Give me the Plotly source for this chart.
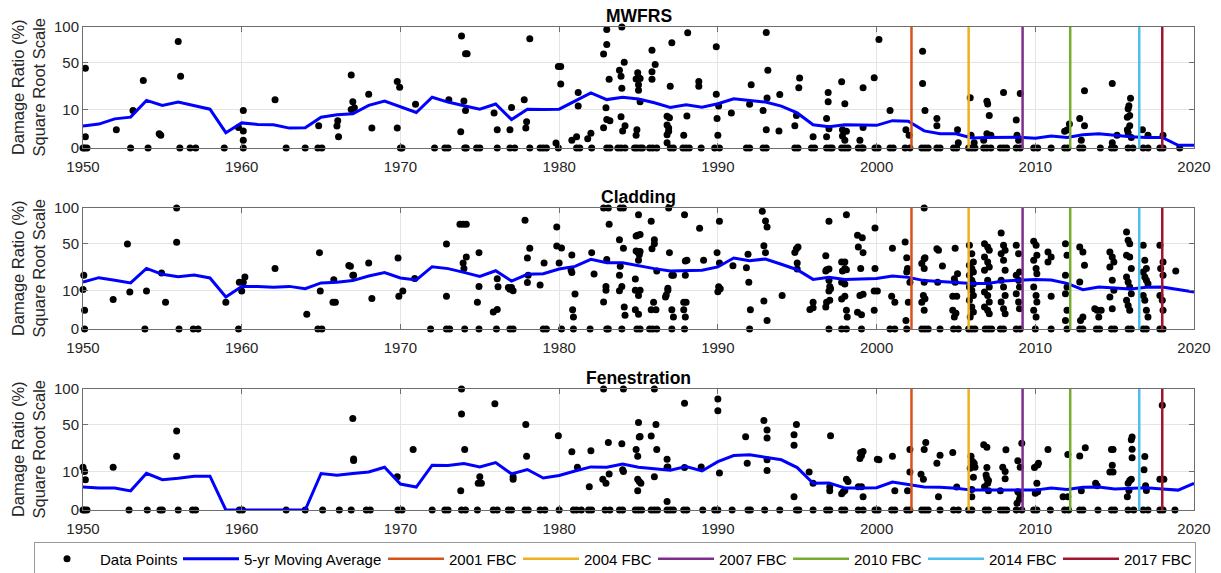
import numpy as np
import plotly.graph_objects as go

# ---------------- data ----------------
avg_years = list(range(1950, 2021))

mwfrs_avg = [3.3, 3.9, 5.8, 6.5, 15.5, 12.4, 14.4, 12.4, 10.3, 1.6,
             4.3, 3.8, 3.7, 2.7, 2.8, 6.5, 7.5, 8.0, 12.4, 15.1,
             11.4, 8.6, 17.6, 14.4, 12.2, 10.3, 13.2, 5.5, 10.3, 10.1,
             10.3, 15.1, 20.7, 16.0, 17.6, 16.4, 14.0, 11.2, 12.8, 11.4,
             13.4, 16.6, 15.5, 14.4, 12.0, 8.4, 3.7, 3.1, 3.7, 3.7,
             3.5, 5.1, 4.9, 2.0, 1.4, 1.4, 0.7, 0.75, 0.75, 0.8,
             0.65, 1.0, 0.75, 1.2, 1.4, 1.1, 0.85, 0.75, 0.75, 0.05, 0.05]

cladding_avg = [15.1, 18.0, 16.2, 14.5, 25.1, 20.4, 18.7, 19.9, 17.8, 7.0,
                12.4, 12.4, 11.9, 12.4, 11.1, 14.5, 14.9, 16.0, 19.2, 21.7,
                17.8, 16.4, 26.5, 24.9, 21.9, 18.9, 23.2, 15.7, 20.4, 20.9,
                24.6, 26.8, 33.2, 30.0, 30.0, 27.1, 24.9, 23.0, 23.0, 23.5,
                26.3, 34.4, 31.9, 33.5, 28.6, 24.0, 16.8, 18.2, 16.8, 17.1,
                17.5, 19.2, 18.2, 16.0, 15.5, 14.9, 14.2, 14.2, 15.7, 16.2,
                16.8, 16.4, 14.2, 10.6, 12.0, 11.5, 10.9, 11.9, 12.0, 10.7, 9.3]

fenestration_avg = [3.6, 3.3, 3.3, 2.5, 9.2, 6.3, 6.9, 7.8, 7.8, 0.0,
                    0.0, 0.0, 0.0, 0.0, 0.0, 9.1, 8.3, 9.1, 9.9, 12.5,
                    4.6, 3.6, 13.7, 13.5, 14.7, 12.7, 15.4, 8.9, 11.2, 7.0,
                    8.1, 10.4, 12.7, 12.5, 14.5, 12.5, 11.7, 10.8, 12.9, 10.4,
                    16.0, 20.3, 20.8, 18.8, 17.2, 12.3, 4.9, 5.0, 3.3, 3.3,
                    3.4, 5.3, 4.4, 3.6, 3.5, 3.2, 2.7, 2.7, 2.7, 2.7,
                    2.7, 3.3, 2.9, 3.5, 3.6, 3.0, 3.3, 3.4, 3.0, 2.7, 4.8]

mwfrs_points = [
    (1950.15, 43.5), (1950.15, 0.85), (1952.1, 2.3), (1953.15, 9.6), (1953.8, 31.2),
    (1954.8, 1.4), (1954.9, 1.1), (1956.0, 77.4), (1956.15, 35.1), (1959.8, 2.9),
    (1960.1, 9.6), (1960.1, 2.0), (1960.1, 0.4), (1962.1, 15.9), (1964.85, 3.4),
    (1966.0, 3.3), (1966.05, 5.1), (1966.1, 0.85), (1966.9, 36.4), (1967.0, 14.6),
    (1966.9, 10.1), (1967.1, 11.0), (1968.0, 19.7), (1968.2, 2.7), (1969.8, 30.3),
    (1969.95, 25.3), (1969.8, 2.7), (1970.95, 13.0), (1973.05, 15.9), (1973.85, 85.5),
    (1974.1, 60.7), (1974.2, 60.7), (1974.0, 15.1), (1974.1, 9.6), (1973.8, 1.8),
    (1975.9, 8.4), (1976.1, 2.3), (1976.9, 2.3), (1977.0, 11.2), (1977.8, 15.9),
    (1977.95, 4.7), (1977.9, 2.7), (1978.15, 81.4), (1979.8, 0.17), (1979.95, 45.3),
    (1980.1, 45.3), (1980.1, 27.9), (1980.8, 0.4), (1981.1, 0.85), (1981.2, 21.0),
    (1981.2, 12.0), (1981.8, 0.6), (1982.0, 1.5), (1982.8, 2.8), (1982.8, 60.3),
    (1983.0, 96.0), (1983.0, 73.0), (1982.95, 11.0), (1983.0, 5.5), (1983.2, 5.1),
    (1983.15, 32.2), (1983.8, 41.3), (1983.9, 35.1), (1983.95, 24.4), (1983.95, 100.0),
    (1984.1, 50.3), (1983.9, 6.7), (1984.15, 3.4), (1984.0, 2.0), (1984.95, 38.8),
    (1984.85, 32.5), (1985.0, 34.0), (1985.1, 33.0), (1985.0, 27.3), (1985.0, 22.8),
    (1985.1, 14.6), (1984.9, 2.3), (1984.85, 1.1), (1985.85, 65.2), (1986.05, 47.6),
    (1985.85, 39.8), (1985.85, 32.2), (1987.0, 26.1), (1987.1, 75.5), (1986.8, 6.9),
    (1986.95, 6.2), (1986.8, 3.6), (1986.9, 2.7), (1986.9, 1.9), (1986.8, 1.2),
    (1986.8, 0.18), (1987.85, 1.1), (1988.05, 7.0), (1988.1, 90.7), (1988.8, 30.3),
    (1988.8, 26.1), (1989.9, 70.0), (1989.9, 19.7), (1989.95, 5.9), (1990.0, 1.1),
    (1990.05, 12.0), (1990.85, 8.4), (1992.0, 13.0), (1992.1, 27.3), (1993.05, 91.0),
    (1993.15, 41.3), (1993.1, 17.1), (1992.85, 9.6), (1993.05, 2.3), (1993.9, 19.5),
    (1993.85, 2.0), (1994.85, 3.4), (1994.95, 7.2), (1995.15, 33.4), (1995.1, 24.7),
    (1996.0, 0.85), (1996.95, 21.0), (1996.95, 14.6), (1996.85, 5.9), (1996.85, 0.85),
    (1997.0, 2.5), (1997.8, 30.0), (1998.0, 13.4), (1997.85, 2.3), (1998.1, 1.9),
    (1997.85, 1.0), (1998.0, 0.4), (1998.95, 0.4), (1999.15, 24.7), (1999.15, 2.9),
    (1999.85, 33.8), (2000.15, 80.4), (2000.85, 9.6), (2001.85, 2.3), (2002.05, 1.1),
    (2002.9, 63.8), (2002.9, 28.5), (2003.05, 9.6), (2003.8, 5.9), (2003.8, 3.4),
    (2005.1, 2.3), (2005.15, 0.18), (2005.9, 17.3), (2005.95, 1.1), (2006.15, 0.18),
    (2006.95, 14.9), (2007.0, 13.2), (2007.1, 7.2), (2006.95, 1.4), (2007.05, 1.1),
    (2007.2, 1.1), (2006.75, 0.4), (2008.0, 21.0), (2008.8, 5.4), (2008.85, 1.1),
    (2009.05, 20.2), (2008.95, 0.4), (2011.85, 1.9), (2012.0, 2.2), (2012.15, 3.9),
    (2012.8, 5.9), (2013.1, 22.3), (2013.1, 3.4), (2012.9, 0.4), (2014.85, 28.5),
    (2014.85, 0.18), (2015.15, 1.1), (2015.8, 6.5), (2015.85, 10.5), (2015.9, 12.2),
    (2015.95, 7.2), (2016.0, 16.9), (2015.8, 2.3), (2015.95, 3.4), (2016.05, 0.75),
    (2015.85, 1.6), (2016.75, 2.3), (2017.1, 1.1), (2018.05, 1.1),
]
mwfrs_zero_years = [
    1950.0, 1950.1, 1950.25, 1953.0, 1954.1, 1956.1, 1956.75, 1957.1, 1958.9, 1960.1,
    1962.8, 1964.0, 1964.8, 1965.05, 1970.0, 1970.1, 1972.15, 1972.8, 1973.0, 1974.05,
    1974.15, 1974.8, 1975.0, 1976.1, 1976.9, 1977.2, 1978.15, 1978.8, 1979.0, 1979.2,
    1979.95, 1981.1, 1981.3, 1982.05, 1983.0, 1983.2, 1983.7, 1983.9, 1984.15, 1984.75,
    1984.9, 1985.1, 1985.25, 1985.7, 1985.9, 1986.15, 1987.0, 1987.2, 1987.8, 1988.0,
    1988.2, 1988.95, 1989.8, 1990.1, 1991.8, 1992.0, 1992.85, 1993.05, 1994.85, 1995.05,
    1995.9, 1996.1, 1996.85, 1997.05, 1997.2, 1997.8, 1998.0, 1998.2, 1998.85, 1999.05,
    1999.15, 1999.9, 2000.1, 2000.85, 2001.05, 2001.8, 2002.1, 2002.85, 2003.05, 2003.25,
    2003.8, 2004.0, 2004.85, 2005.05, 2005.8, 2006.0, 2006.2, 2006.75, 2006.95, 2007.2,
    2007.8, 2008.0, 2008.2, 2008.8, 2009.05, 2009.9, 2010.15, 2011.0, 2011.85, 2012.05,
    2012.8, 2013.0, 2014.1, 2014.8, 2015.0, 2015.85, 2016.15, 2016.8, 2017.1, 2017.85,
    2018.05, 2019.1,
]

cladding_points = [
    (1950.05, 19.7), (1950.0, 10.7), (1950.1, 2.4), (1951.9, 5.9), (1952.8, 49.3),
    (1952.95, 9.4), (1954.0, 9.9), (1954.95, 21.4), (1955.2, 4.9), (1955.9, 100.0),
    (1955.9, 51.3), (1959.0, 4.9), (1959.85, 14.9), (1960.0, 9.9), (1960.1, 14.9),
    (1960.2, 18.5), (1962.1, 24.9), (1964.1, 1.5), (1964.9, 39.8), (1964.95, 9.9),
    (1965.8, 16.6), (1965.75, 4.9), (1965.9, 4.9), (1966.75, 27.5), (1966.85, 27.0),
    (1967.0, 19.7), (1967.05, 19.7), (1968.0, 29.8), (1968.2, 6.4), (1969.85, 34.4),
    (1969.9, 7.3), (1970.15, 9.9), (1970.9, 17.5),
    (1972.9, 49.3), (1972.9, 7.3), (1973.75, 74.8), (1973.95, 74.8), (1974.15, 74.8),
    (1974.15, 35.4), (1973.95, 29.8), (1974.0, 24.9), (1974.95, 39.8), (1974.95, 12.4),
    (1974.85, 4.9), (1975.85, 2.0), (1976.1, 2.6), (1976.1, 17.3), (1976.15, 12.2),
    (1976.8, 11.8), (1976.9, 10.8), (1977.0, 11.8), (1977.1, 10.0), (1977.85, 80.7),
    (1978.15, 44.4), (1978.0, 34.4), (1978.05, 19.7), (1978.0, 14.7), (1978.8, 13.2),
    (1979.05, 29.8), (1979.85, 71.1), (1979.85, 47.1), (1980.0, 29.8), (1980.15, 44.8),
    (1980.8, 37.4), (1980.75, 23.8), (1980.8, 21.9), (1981.0, 8.4), (1980.85, 2.5),
    (1980.9, 1.0), (1982.05, 39.8), (1982.2, 20.7), (1982.8, 100.0), (1983.1, 100.0),
    (1983.15, 74.8), (1982.95, 12.4), (1982.95, 10.2), (1982.8, 5.0), (1983.0, 33.1),
    (1983.85, 100.0), (1984.05, 100.0), (1983.8, 54.5), (1984.05, 44.4), (1983.85, 26.8),
    (1983.8, 19.7), (1983.95, 12.4), (1983.8, 10.0), (1984.1, 3.3), (1984.15, 1.3),
    (1985.0, 89.3), (1984.85, 59.0), (1984.95, 60.0), (1985.1, 61.0), (1984.85, 41.5),
    (1984.95, 40.5), (1985.1, 41.0), (1985.05, 37.7), (1985.0, 32.2), (1984.8, 17.1),
    (1984.8, 10.2), (1985.0, 7.7), (1985.1, 10.2), (1984.8, 2.5), (1985.0, 1.5),
    (1985.8, 79.2), (1986.0, 54.5), (1986.0, 49.7), (1985.85, 44.1), (1985.95, 4.9),
    (1985.8, 2.5), (1986.1, 2.5), (1986.15, 23.0), (1986.95, 39.8), (1986.85, 11.4),
    (1986.85, 10.2), (1986.75, 7.9), (1986.7, 7.0), (1987.1, 19.7), (1987.2, 19.7),
    (1987.1, 2.5), (1987.2, 1.0), (1986.9, 100.0), (1987.9, 89.3), (1987.95, 31.5),
    (1988.05, 32.2), (1987.95, 19.7), (1987.85, 4.9), (1988.0, 4.9), (1987.85, 2.5),
    (1987.95, 1.0), (1988.85, 69.2), (1989.1, 32.2), (1989.95, 39.8), (1990.1, 79.2),
    (1990.1, 29.8), (1990.0, 9.5), (1990.05, 12.2), (1990.15, 11.1), (1990.95, 27.4),
    (1991.8, 25.7), (1991.9, 38.1), (1991.95, 14.9), (1992.05, 2.5), (1992.8, 94.6),
    (1993.0, 79.7), (1993.1, 71.1), (1992.9, 47.4), (1993.0, 39.8), (1992.9, 5.4),
    (1993.1, 0.5), (1994.05, 7.7), (1994.85, 40.0), (1994.95, 44.0), (1995.05, 46.0),
    (1995.0, 29.8), (1995.0, 24.6), (1995.8, 2.6), (1996.0, 3.1), (1996.0, 4.9),
    (1997.0, 79.2), (1996.8, 36.7), (1996.85, 24.0), (1997.0, 24.6), (1996.8, 23.0),
    (1997.0, 16.2), (1997.05, 12.4), (1997.1, 11.1), (1997.0, 9.9), (1996.85, 4.9),
    (1997.05, 5.6), (1996.8, 3.3), (1997.8, 30.6), (1998.0, 30.6), (1998.0, 24.9),
    (1997.85, 23.0), (1998.1, 24.0), (1997.8, 14.9), (1998.0, 13.8), (1997.8, 6.1),
    (1998.0, 7.3), (1998.1, 89.3), (1998.1, 2.4), (1998.15, 1.0), (1998.8, 59.9),
    (1999.1, 57.0), (1998.85, 45.9), (1999.15, 39.8), (1999.0, 24.9), (1998.95, 7.7),
    (1999.15, 8.2), (1998.8, 1.9), (1999.05, 1.4), (1999.9, 69.7), (1999.9, 24.9),
    (1999.85, 9.9), (2000.05, 9.9), (1999.85, 2.4), (2001.0, 44.4), (2000.95, 7.3),
    (2001.15, 4.9), (2001.8, 51.7), (2001.9, 34.7), (2001.95, 24.9), (2001.9, 22.2),
    (2002.1, 14.9), (2002.0, 4.9), (2001.85, 0.5), (2003.0, 100.0), (2002.85, 29.2),
    (2003.0, 33.8), (2003.05, 34.7), (2003.0, 24.9), (2003.0, 14.9), (2002.95, 7.7),
    (2003.05, 6.3), (2002.85, 4.9), (2003.0, 2.4), (2003.8, 44.1), (2003.9, 42.3),
    (2004.15, 27.1), (2003.85, 14.9), (2004.95, 44.4), (2004.9, 17.3), (2004.95, 14.9),
    (2005.1, 20.9), (2004.8, 7.3), (2005.05, 7.3), (2004.8, 2.4), (2004.9, 1.0),
    (2005.0, 1.7),
    (2005.85, 47.8), (2006.0, 38.8), (2006.1, 30.6), (2005.85, 27.7), (2006.0, 24.9),
    (2006.1, 22.2), (2005.85, 19.7), (2006.0, 16.2), (2006.1, 14.0), (2005.85, 12.0),
    (2006.0, 10.2), (2006.1, 7.7), (2005.85, 5.6), (2006.0, 3.3), (2006.1, 2.0),
    (2005.9, 1.0),
    (2006.8, 49.7), (2007.0, 45.9), (2007.1, 42.3), (2006.8, 35.4), (2007.0, 30.6),
    (2007.1, 26.3), (2006.8, 23.5), (2007.0, 16.2), (2007.1, 12.0), (2006.8, 9.3),
    (2007.0, 7.7), (2007.1, 5.0), (2006.8, 3.3), (2007.0, 2.4), (2007.1, 1.6),
    (2007.85, 62.9), (2008.0, 47.8), (2008.1, 42.3), (2007.85, 38.8), (2008.0, 32.2),
    (2008.1, 23.5), (2007.85, 16.2), (2008.0, 12.0), (2008.1, 7.7), (2007.85, 5.0),
    (2008.0, 2.8), (2008.1, 1.6),
    (2008.8, 47.8), (2008.95, 38.8), (2009.0, 22.2), (2008.8, 19.7), (2008.95, 16.2),
    (2009.0, 12.0), (2008.8, 8.5), (2008.95, 5.0), (2009.0, 2.8),
    (2009.9, 52.5), (2010.05, 47.8), (2010.1, 37.1), (2009.9, 32.2), (2010.05, 24.9),
    (2010.1, 20.9), (2009.9, 12.0), (2010.05, 7.7), (2010.1, 5.0), (2009.9, 2.4),
    (2010.05, 1.0),
    (2010.8, 40.5), (2011.0, 35.4), (2010.8, 30.6), (2011.0, 7.3),
    (2011.9, 49.7), (2012.0, 37.1), (2011.9, 19.7), (2012.0, 12.0), (2011.9, 8.5),
    (2012.0, 2.4), (2011.9, 0.5),
    (2012.8, 45.9), (2013.0, 40.5), (2013.1, 27.7), (2012.8, 15.1), (2013.0, 1.0),
    (2012.85, 0.5),
    (2013.75, 2.8), (2013.9, 2.4), (2014.0, 1.0), (2014.15, 2.4),
    (2014.7, 40.5), (2014.85, 35.4), (2014.95, 30.6), (2014.7, 26.3), (2014.85, 16.2),
    (2014.95, 10.2), (2014.7, 7.0), (2014.85, 2.8),
    (2015.75, 64.3), (2015.85, 53.7), (2015.95, 49.7), (2015.75, 37.1), (2015.95, 35.4),
    (2016.05, 24.9), (2015.75, 18.5), (2015.85, 15.1), (2015.95, 12.0), (2016.05, 8.5),
    (2015.75, 5.6), (2015.85, 3.8), (2015.95, 2.4),
    (2016.8, 47.8), (2016.9, 32.2), (2017.0, 24.9), (2016.8, 22.2), (2016.9, 18.5),
    (2017.0, 16.2), (2017.1, 14.0), (2016.8, 7.7), (2016.9, 5.6), (2017.0, 2.4),
    (2017.1, 1.0),
    (2017.85, 47.8), (2018.05, 30.6), (2017.9, 24.9), (2018.05, 19.7), (2017.85, 7.7),
    (2018.0, 5.6), (2018.05, 2.4), (2018.85, 23.0),
]
cladding_zero_years = [
    1950.1, 1953.9, 1956.05, 1956.95, 1957.25, 1959.8, 1964.8, 1965.05, 1971.9, 1972.9,
    1973.1, 1974.05, 1974.95, 1976.05, 1976.9, 1977.1, 1979.0, 1979.2, 1980.15, 1980.9,
    1981.95, 1983.0, 1983.1, 1983.95, 1984.9, 1985.1, 1985.7, 1985.9, 1986.15, 1987.1,
    1987.9, 1992.0, 1997.0, 1997.8, 1998.1, 1999.05, 2000.85, 2001.15, 2001.9, 2002.85,
    2003.05, 2003.25, 2004.0, 2004.85, 2005.15, 2005.8, 2006.0, 2006.2, 2006.85, 2007.05,
    2007.25, 2007.8, 2008.0, 2008.8, 2009.05, 2010.0, 2011.0, 2012.0, 2012.8, 2013.0,
    2013.85, 2014.05, 2014.8, 2015.0, 2015.85, 2016.05, 2016.8, 2017.0, 2017.85, 2018.05,
]

fenestration_points = [
    (1950.0, 12.5), (1950.1, 10.1), (1950.15, 6.2), (1951.9, 12.5), (1955.9, 42.5),
    (1955.9, 19.8), (1967.0, 57.3), (1967.05, 17.8), (1967.05, 16.7), (1969.8, 7.5),
    (1970.8, 25.0), (1973.85, 100.0), (1973.85, 62.9), (1974.05, 25.0), (1973.8, 2.5),
    (1975.0, 7.5), (1974.9, 4.9), (1975.1, 4.9), (1975.95, 77.2), (1977.1, 7.6),
    (1977.1, 6.5), (1977.9, 50.0), (1977.95, 19.8), (1979.95, 37.6), (1980.8, 23.1),
    (1981.15, 12.5), (1981.9, 3.7), (1982.0, 23.9), (1982.75, 6.5), (1982.95, 4.9),
    (1982.8, 100.0), (1983.1, 31.1), (1983.15, 8.9), (1984.05, 100.0), (1983.95, 29.9),
    (1984.0, 11.0), (1984.05, 10.1), (1984.85, 25.0), (1984.95, 19.8), (1985.0, 52.4),
    (1985.1, 36.9), (1985.05, 36.5), (1984.95, 6.5), (1985.05, 5.5), (1985.15, 4.9),
    (1984.95, 2.5), (1985.8, 37.3), (1986.0, 100.0), (1986.1, 50.0), (1986.15, 25.0),
    (1986.0, 7.5), (1986.8, 17.6), (1986.85, 12.7), (1986.8, 12.5), (1986.8, 0.5),
    (1987.9, 77.7), (1987.9, 12.3), (1988.95, 12.7), (1990.0, 84.1), (1990.0, 67.3),
    (1990.1, 9.4), (1991.75, 36.6), (1991.85, 15.0), (1992.9, 54.8), (1993.1, 43.6),
    (1993.1, 35.3), (1993.1, 17.2), (1993.1, 10.6), (1994.95, 50.0), (1994.8, 38.6),
    (1994.8, 28.7), (1994.8, 1.2), (1995.75, 9.9), (1996.0, 4.9),
    (1997.1, 37.6), (1997.05, 3.7), (1997.05, 2.5), (1997.9, 2.3), (1998.0, 2.6),
    (1997.8, 1.8), (1998.1, 6.5), (1998.2, 5.5), (1999.0, 22.6), (1999.05, 20.3),
    (1998.95, 18.1), (1999.15, 23.4), (1998.85, 3.7), (1999.05, 3.7), (1999.15, 1.2),
    (2000.05, 17.6), (2000.15, 17.2), (2001.0, 19.8), (2001.15, 2.5), (2001.95, 2.5),
    (2002.1, 25.0), (2002.1, 9.9), (2002.8, 8.7), (2002.95, 6.5), (2003.0, 25.0),
    (2003.1, 31.1), (2003.8, 15.0), (2004.0, 20.5), (2003.9, 1.2), (2004.8, 22.6),
    (2005.05, 3.6), (2005.95, 19.8), (2006.05, 16.0), (2006.15, 15.0), (2006.0, 12.9),
    (2006.2, 12.5), (2005.9, 11.9), (2006.1, 7.3), (2006.0, 2.9), (2006.0, 1.2),
    (2006.75, 29.0), (2006.95, 27.0), (2006.95, 12.3), (2006.9, 8.4), (2006.95, 6.9),
    (2007.05, 5.9), (2007.0, 4.9), (2006.8, 3.7), (2007.05, 2.5), (2007.8, 2.5),
    (2007.95, 12.5), (2008.1, 10.1), (2008.15, 24.7), (2008.1, 6.7), (2008.85, 0.3),
    (2008.9, 16.5), (2009.05, 12.5), (2009.15, 30.5), (2008.9, 2.3), (2009.05, 1.5),
    (2009.0, 0.8), (2009.95, 12.3), (2010.15, 13.9), (2010.2, 15.0), (2010.1, 4.9),
    (2010.0, 1.9), (2010.15, 2.3), (2010.8, 25.0), (2011.75, 1.2), (2012.05, 1.2),
    (2012.05, 21.0), (2012.8, 20.0), (2012.9, 2.5), (2013.15, 26.4), (2013.8, 4.9),
    (2013.9, 4.0), (2014.8, 25.0), (2014.9, 25.0), (2014.85, 13.7), (2014.7, 9.9),
    (2014.9, 9.9), (2015.8, 1.2), (2015.85, 4.9), (2015.95, 5.9), (2016.05, 6.5),
    (2015.9, 2.6), (2016.05, 33.7), (2016.1, 36.3), (2016.1, 25.3), (2016.1, 18.6),
    (2016.9, 19.5), (2016.85, 11.0), (2016.95, 4.0), (2017.0, 2.6), (2018.0, 74.8),
    (2017.85, 6.5), (2018.1, 6.5),
]
fenestration_zero_years = [
    1950.0, 1950.1, 1950.25, 1952.9, 1954.05, 1954.85, 1955.0, 1956.0, 1956.9, 1957.1,
    1959.85, 1960.05, 1962.8, 1964.0, 1965.1, 1966.15, 1966.9, 1967.85, 1968.1, 1969.85,
    1970.1, 1972.0, 1972.8, 1973.0, 1973.85, 1974.1, 1974.85, 1975.85, 1976.1, 1976.8,
    1977.0, 1977.85, 1978.05, 1978.8, 1979.1, 1980.0, 1980.9, 1981.1, 1981.4, 1981.85,
    1982.05, 1982.9, 1983.2, 1983.8, 1984.0, 1984.8, 1985.0, 1985.2, 1985.8, 1986.0,
    1986.2, 1986.8, 1987.0, 1987.2, 1987.85, 1988.05, 1989.05, 1989.8, 1990.0, 1990.9,
    1991.9, 1992.05, 1992.95, 1993.9, 1994.95, 1995.1, 1996.0, 1996.85, 1997.05, 1997.8,
    1998.0, 1998.85, 1999.15, 1999.9, 2000.1, 2000.95, 2001.15, 2001.9, 2002.1, 2002.85,
    2003.05, 2003.25, 2004.0, 2004.85, 2005.15, 2005.8, 2006.0, 2006.85, 2007.05, 2007.8,
    2008.0, 2008.2, 2008.8, 2009.15, 2009.9, 2010.1, 2010.95, 2011.85, 2012.1, 2012.8,
    2013.0, 2013.95, 2014.8, 2015.0, 2015.85, 2016.2, 2016.8, 2017.1, 2017.85, 2018.05,
    2018.8,
]

panel_titles = ["MWFRS", "Cladding", "Fenestration"]
code_names = ["2001 FBC", "2004 FBC", "2007 FBC", "2010 FBC", "2014 FBC", "2017 FBC"]
code_dates = [2002.2, 2005.8, 2009.2, 2012.2, 2016.55, 2018.0]
code_colors = ["#D95319", "#EDB120", "#7E2F8E", "#77AC30", "#4DBEEE", "#A2142F"]

y_tick_values = [0, 10, 50, 100]
x_tick_values = [1950, 1960, 1970, 1980, 1990, 2000, 2010, 2020]
y_max = 100

# ---------------- figure ----------------
W, H = 1221, 573
FONT = "Liberation Sans, Arial, sans-serif"
x_dom = [83 / W, 1194 / W]
rows_px = [(27, 148), (208, 329), (389, 510)]

panels = [
    (mwfrs_points, mwfrs_zero_years, mwfrs_avg),
    (cladding_points, cladding_zero_years, cladding_avg),
    (fenestration_points, fenestration_zero_years, fenestration_avg),
]

# legend entry widths (px) after the symbol area
legend_w_points = 73
legend_w_avg = 134
legend_w_codes = [64, 64, 64, 64, 64, 66]

fig = go.Figure()
layout = dict(
    template="none",
    width=W, height=H, margin=dict(l=0, r=0, t=0, b=0, autoexpand=False),
    paper_bgcolor="white", plot_bgcolor="white",
    font=dict(family=FONT, color="#262626"),
    showlegend=True,
    legend=dict(orientation="h", x=34 / W, xanchor="left", y=1 - 559 / H, yanchor="middle",
                bordercolor="#9a9a9a", borderwidth=1, bgcolor="white",
                font=dict(size=15, family=FONT, color="#000000"), itemwidth=56,
                entrywidthmode="pixels"),
)
annotations = []

for i, (pts, zeros, avg) in enumerate(panels):
    n = i + 1
    xa = "x" if n == 1 else f"x{n}"
    ya = "y" if n == 1 else f"y{n}"
    first = (n == 1)
    px = [p[0] for p in pts] + list(zeros)
    pv = [p[1] for p in pts] + [0.0] * len(zeros)

    fig.add_trace(go.Scatter(
        x=px, y=np.sqrt(pv), mode="markers", name="Data Points",
        marker=dict(color="black", size=7), cliponaxis=False,
        xaxis=xa, yaxis=ya, showlegend=first, legendgroup="pts",
        legendwidth=legend_w_points))
    fig.add_trace(go.Scatter(
        x=avg_years, y=np.sqrt(avg), mode="lines", name="5-yr Moving Average",
        line=dict(color="#0000FF", width=3), xaxis=xa, yaxis=ya,
        showlegend=first, legendgroup="avg", legendwidth=legend_w_avg))
    for name, d, c, lw in zip(code_names, code_dates, code_colors, legend_w_codes):
        fig.add_trace(go.Scatter(
            x=[d, d], y=[0, np.sqrt(y_max)], mode="lines", name=name,
            line=dict(color=c, width=2.5), xaxis=xa, yaxis=ya,
            showlegend=first, legendgroup=name, legendwidth=lw))

    top, bot = rows_px[i]
    dom = [1 - bot / H, 1 - top / H]
    axis_common = dict(showline=True, linecolor="#6e6e6e", linewidth=1, mirror="ticks",
                       ticks="inside", ticklen=5, tickcolor="#6e6e6e",
                       showgrid=True, gridcolor="#e4e4e4", gridwidth=1, zeroline=False,
                       automargin=False,
                       tickfont=dict(size=15, family=FONT, color="#262626"))
    layout["xaxis" if n == 1 else f"xaxis{n}"] = dict(
        axis_common, domain=x_dom, range=[1950, 2020], tickvals=x_tick_values,
        anchor=ya, ticklabelstandoff=5)
    layout["yaxis" if n == 1 else f"yaxis{n}"] = dict(
        axis_common, domain=dom, range=[0, np.sqrt(y_max)],
        tickvals=list(np.sqrt(y_tick_values)), ticktext=[str(v) for v in y_tick_values],
        anchor=xa)

    annotations.append(dict(
        text=f"<b>{panel_titles[i]}</b>", xref="paper", yref="paper",
        x=(x_dom[0] + x_dom[1]) / 2, y=1 - (top - 11) / H, xanchor="center", yanchor="middle",
        showarrow=False, font=dict(size=17.5, family=FONT, color="#000000")))
    annotations.append(dict(
        text="Damage Ratio (%)<br>Square Root Scale", xref="paper", yref="paper",
        x=28 / W, y=1 - (top + bot) / 2 / H, xanchor="center", yanchor="middle",
        textangle=-90, showarrow=False, font=dict(size=16.5, family=FONT, color="#262626")))

layout["annotations"] = annotations
fig.update_layout(**layout)

fig.write_html("out.html", config={"displayModeBar": False},
               post_script="document.body.style.margin='0';")
